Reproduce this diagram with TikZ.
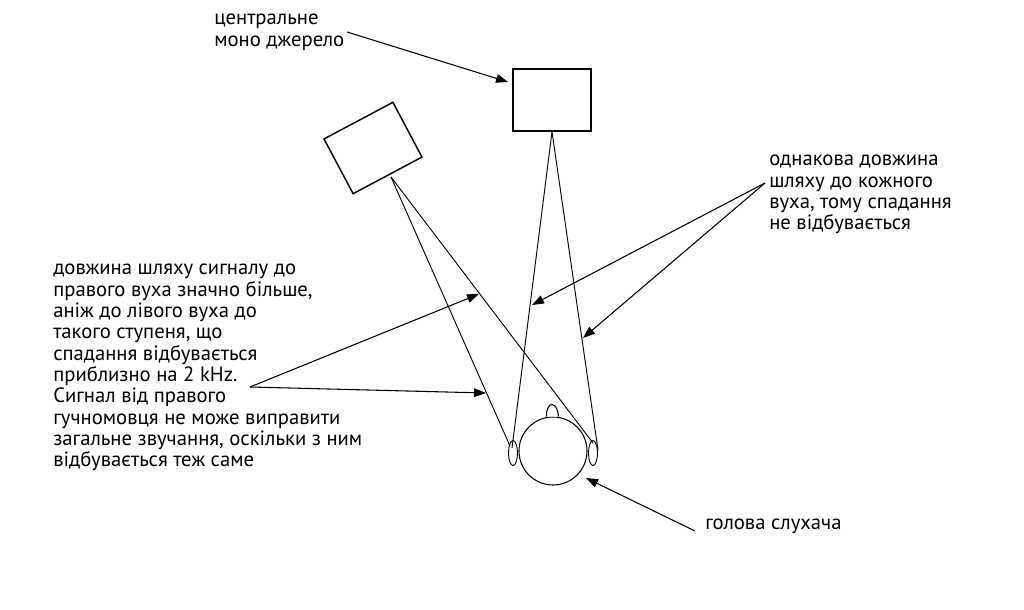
\documentclass[tikz,border=0pt]{standalone}
\usepackage{fontspec}
\setmainfont{PT Sans}
\usetikzlibrary{arrows.meta,shapes.geometric}
\begin{document}
\begin{tikzpicture}[x=0.75pt,y=-0.75pt,
  box/.style={draw,line width=1.1pt,minimum width=58.5pt,minimum height=46.5pt,inner sep=0},
  ray/.style={line width=0.7pt},
  pointer/.style={line width=0.8pt,-{Triangle[length=9pt,width=6.5pt]}},
  lbl/.style={font=\fontsize{15.5pt}{16pt}\selectfont,align=left,anchor=north west,inner sep=0},
  ear/.style={draw,ellipse,line width=0.7pt,minimum width=6.75pt,minimum height=18.75pt,inner sep=0}]
\useasboundingbox (0,0) rectangle (1024,610);
% loudspeakers
\node[box] (cbox) at (552,100) {};
\node[box,rotate=28] (tbox) at (373,148) {};
% head
\node[draw,circle,line width=0.8pt,minimum size=51pt,inner sep=0] (head) at (553,451) {};
\node[ear] (lear) at (513,453) {};
\node[ear] (rear) at (593,453) {};
\draw[line width=0.8pt,fill=white] (546.5,416.5) .. controls (546,410) and (549,404) .. (552,404.5)
  .. controls (556,405) and (558,410) .. (558.5,416.5);
% ear points
\coordinate (cl) at (512,448);
\coordinate (cr) at (598,450);
\coordinate (tl) at (510,446);
\coordinate (tr) at (593,443);
\coordinate (ts) at (391,177);
% rays
\draw[ray] (cbox.south) -- (cl);
\draw[ray] (cbox.south) -- (cr);
\draw[ray] (ts) -- (tl);
\draw[ray] (ts) -- (tr);
% labels
\node[lbl] (ltop) at (214,14) {центральне\\моно джерело};
\node[lbl] (lright) at (769,155) {однакова довжина\\шляху до кожного\\вуха, тому спадання\\не відбувається};
\node[lbl] (lleft) at (53,264) {довжина шляху сигналу до\\правого вуха значно більше,\\аніж до лівого вуха до\\такого ступеня, що\\спадання відбувається\\приблизно на 2 kHz.\\Сигнал від правого\\гучномовця не може виправити\\загальне звучання, оскільки з ним\\відбувається теж саме};
\node[lbl] (lhead) at (705,519) {голова слухача};
% pointer start coordinates
\coordinate (ptop) at (347,32);
\coordinate (pright) at (765,183);
\coordinate (pleft) at (250,387);
\coordinate (phead) at (695,531);
\coordinate (atop) at (508,82);
\coordinate (ar1) at (532,305);
\coordinate (ar2) at (583,338);
\coordinate (al1) at (479,294);
\coordinate (al2) at (486,393);
\coordinate (ahead) at (586,478);
\draw[pointer] (ptop) -- (atop);
\draw[pointer] (pright) -- (ar1);
\draw[pointer] (pright) -- (ar2);
\draw[pointer] (pleft) -- (al1);
\draw[pointer] (pleft) -- (al2);
\draw[pointer] (phead) -- (ahead);
\end{tikzpicture}
\end{document}
